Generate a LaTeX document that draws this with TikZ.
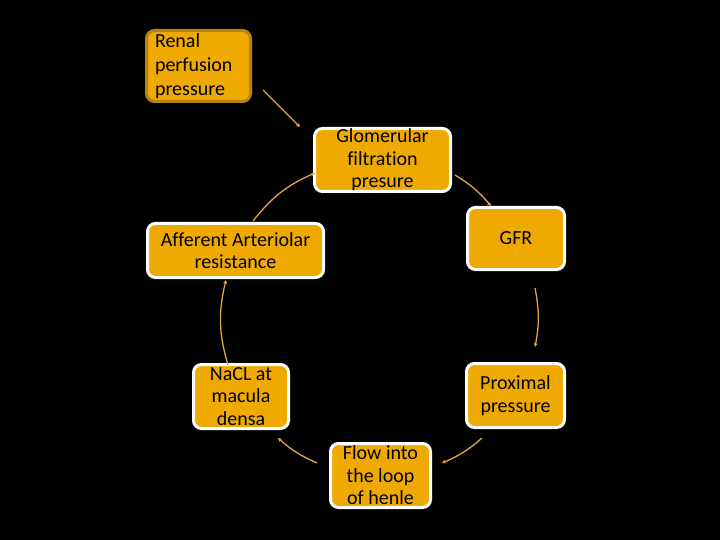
\documentclass[tikz,border=0pt]{standalone}
\usepackage{fontspec}
\setmainfont{Carlito}[Ligatures={NoCommon}]
\usetikzlibrary{arrows.meta}
\definecolor{boxfill}{RGB}{238,170,0}
\definecolor{renalborder}{RGB}{185,130,20}
\definecolor{arrowcol}{RGB}{222,165,70}
\begin{document}
\begin{tikzpicture}[x=1pt,y=-1pt,
  box/.style={fill=boxfill, rounded corners=8pt, inner sep=0pt,
    font=\fontsize{20}{22.5}\selectfont},
  cyc/.style={box, draw=white, line width=3pt, align=center},
  conn/.style={draw=arrowcol, line width=1.3pt, -{Stealth[length=4pt,width=4pt]}}]
\fill[black] (0,0) rectangle (720,540);
% nodes
\node[box, draw=renalborder, line width=3pt, minimum width=104pt, minimum height=71pt,
  text width=87pt, align=left, font=\fontsize{20}{24}\selectfont] (renal) at (198.5,66)
  {Renal\\perfusion\\pressure};
\node[cyc, minimum width=136pt, minimum height=63pt] (glom) at (382.5,160)
  {Glomerular\\filtration\\presure};
\node[cyc, minimum width=97pt, minimum height=62pt] (gfr) at (516,238.5) {GFR};
\node[cyc, minimum width=176pt, minimum height=54pt] (aff) at (235.5,250.5)
  {Afferent Arteriolar\\resistance};
\node[cyc, minimum width=95pt, minimum height=64pt] (nacl) at (241,396.5)
  {NaCL at\\macula\\densa};
\node[cyc, minimum width=98pt, minimum height=64pt] (prox) at (515.5,395.5)
  {Proximal\\pressure};
\node[cyc, minimum width=100pt, minimum height=64pt] (flow) at (380.5,475.5)
  {Flow into\\the loop\\of henle};
% connector end points
\coordinate (r1) at (263,90);   \coordinate (r2) at (300,127);
\coordinate (g1) at (455,175);  \coordinate (g2) at (491,206);
\coordinate (f1) at (535,288);  \coordinate (f2) at (535,347);
\coordinate (p1) at (482,438);  \coordinate (p2) at (442,463);
\coordinate (l1) at (317,463);  \coordinate (l2) at (278,438);
\coordinate (n1) at (228,365);  \coordinate (n2) at (226,280);
\coordinate (a1) at (253,221);  \coordinate (a2) at (315,173);
% connectors
\draw[conn] (r1) -- (r2);
\draw[conn] (g1) to[bend left=9] (g2);
\draw[conn] (f1) to[bend left=11] (f2);
\draw[conn] (p1) to[bend left=9] (p2);
\draw[conn] (l1) to[bend left=9] (l2);
\draw[conn] (n1) to[bend left=15] (n2);
\draw[conn] (a1) to[bend left=14] (a2);
\end{tikzpicture}
\end{document}
